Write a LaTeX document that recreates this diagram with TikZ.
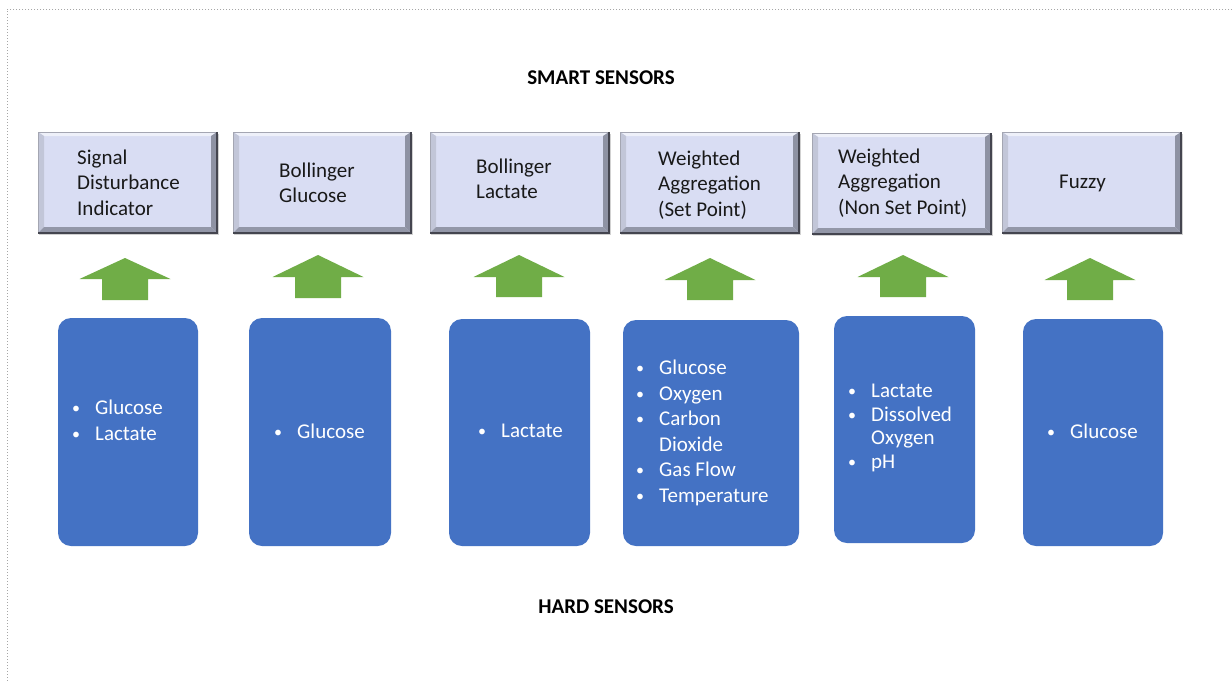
\documentclass[tikz,border=0pt]{standalone}
\usepackage{fontspec}
\setmainfont{Carlito}
\definecolor{face}{HTML}{D9DDF3}
\definecolor{btopc}{HTML}{EEF0F9}
\definecolor{bleftc}{HTML}{C2C6D8}
\definecolor{brightc}{HTML}{8E92A3}
\definecolor{bbotc}{HTML}{9397A8}
\definecolor{bedgelight}{HTML}{A4A6B2}
\definecolor{bedgedark}{HTML}{44454F}
\definecolor{hardblue}{HTML}{4472C4}
\definecolor{arrowgreen}{HTML}{70AD47}
\tikzset{
  boxface/.style={fill=face, draw=none, inner sep=0pt},
  hardbox/.style={fill=hardblue, draw=none, rounded corners=13pt, inner sep=0pt},
  smarttext/.style={anchor=west, align=left, inner sep=0pt, text=black!90, font=\fontsize{21}{25.5}\selectfont},
  hardtext/.style={anchor=west, align=left, inner sep=0pt, text=white, font=\fontsize{21}{25.5}\selectfont},
  titletext/.style={inner sep=0pt, text=black, font=\fontsize{21}{24}\selectfont\bfseries},
  uparrow/.style={fill=arrowgreen, draw=none},
  frameline/.style={draw=black!35, dotted, line width=1pt}
}
\newcommand\bevelbox[5]{%
  \fill[black!18] ({#2+1},{#3+2}) rectangle ({#4+2},{#5+2});
  \node[boxface, minimum width={#4-#2}, minimum height={#5-#3}] (#1) at ({(#2+#4)/2},{(#3+#5)/2}) {};
  \fill[btopc] (#2,#3) -- (#4,#3) -- ({#4-6},{#3+4}) -- ({#2+6},{#3+4}) -- cycle;
  \fill[bleftc] (#2,#3) -- ({#2+6},{#3+4}) -- ({#2+6},{#5-6}) -- (#2,#5) -- cycle;
  \fill[brightc] (#4,#3) -- (#4,#5) -- ({#4-6},{#5-6}) -- ({#4-6},{#3+4}) -- cycle;
  \fill[bbotc] (#2,#5) -- (#4,#5) -- ({#4-6},{#5-6}) -- ({#2+6},{#5-6}) -- cycle;
  \draw[bedgelight, line width=0.8pt] (#2,#5) -- (#2,#3) -- (#4,#3);
  \draw[bedgedark, line width=1.6pt] (#4,#3) -- (#4,#5) -- (#2,#5);
}
\newcommand\hardrect[5]{%
  \node[hardbox, minimum width={#4-#2}, minimum height={#5-#3}] (#1) at ({(#2+#4)/2},{(#3+#5)/2}) {};
}
% #1 name, #2 centre x, #3 tip y, #4 head base y, #5 bottom y
\newcommand\blockarrow[5]{%
  \coordinate (#1) at (#2,#3);
  \fill[uparrow] (#1) -- ({#2+45.5},#4) -- ({#2+23},#4) -- ({#2+23},#5) -- ({#2-23},#5) -- ({#2-23},#4) -- ({#2-45.5},#4) -- cycle;
}
\newcommand\bul{\makebox[23pt][l]{\fontsize{16}{16}\selectfont\raisebox{1pt}{•}}}
\begin{document}
\begin{tikzpicture}[x=1pt, y=-1pt]
\useasboundingbox (0,0) rectangle (1232,681);
\fill[white] (0,0) rectangle (1232,681);
% frame (top and left edges visible)
\coordinate (ftl) at (7,9);
\coordinate (ftr) at (1232,9);
\coordinate (fbl) at (7,681);
\draw[frameline] (ftr) -- (ftl) -- (fbl);

% titles
\node[titletext] (smart) at (601,78) {SMART SENSORS};
\node[titletext] (hard) at (606,607) {HARD SENSORS};

% smart sensor boxes
\bevelbox{s1}{38}{132}{217}{233}
\bevelbox{s2}{233}{132}{411}{233}
\bevelbox{s3}{430}{132}{609}{233}
\bevelbox{s4}{620}{132}{799}{233}
\bevelbox{s5}{812}{133}{991}{234}
\bevelbox{s6}{1002}{132}{1181}{233}

\node[smarttext] (t1) at (77,182.5) {Signal\\Disturbance\\Indicator};
\node[smarttext] (t2) at (279,183) {Bollinger\\Glucose};
\node[smarttext] (t3) at (476,179) {Bollinger\\Lactate};
\node[smarttext] (t4) at (658,185) {Weighted\\Aggregation\\(Set Point)};
\node[smarttext] (t5) at (838,183) {Weighted\\Aggregation\\(Non Set Point)};
\node[smarttext] (t6) at (1059,183) {Fuzzy};

% arrows
\blockarrow{a1}{125}{258}{279}{300}
\blockarrow{a2}{318}{255}{277}{298}
\blockarrow{a3}{519}{255}{277}{297}
\blockarrow{a4}{710}{258}{280}{300}
\blockarrow{a5}{903}{255}{277}{297}
\blockarrow{a6}{1090}{258}{280}{300}

% hard sensor boxes
\hardrect{h1}{58}{318}{198}{546}
\hardrect{h2}{249}{318}{391}{546}
\hardrect{h3}{449}{319}{590}{546}
\hardrect{h4}{623}{320}{799}{546}
\hardrect{h5}{834}{316}{975}{543}
\hardrect{h6}{1023}{319}{1163}{546}

\node[hardtext] (l1) at (72,420.5) {\bul Glucose\\\bul Lactate};
\node[hardtext] (l2) at (274,431) {\bul Glucose};
\node[hardtext] (l3) at (478,431) {\bul Lactate};
\node[hardtext] (l4) at (636,433) {\bul Glucose\\\bul Oxygen\\\bul Carbon\\\hspace*{23pt}Dioxide\\\bul Gas Flow\\\bul Temperature};
\node[hardtext, font=\fontsize{21}{23.5}\selectfont] (l5) at (848,428) {\bul Lactate\\\bul Dissolved\\\hspace*{23pt}Oxygen\\\bul pH};
\node[hardtext] (l6) at (1047,431) {\bul Glucose};
\end{tikzpicture}
\end{document}
